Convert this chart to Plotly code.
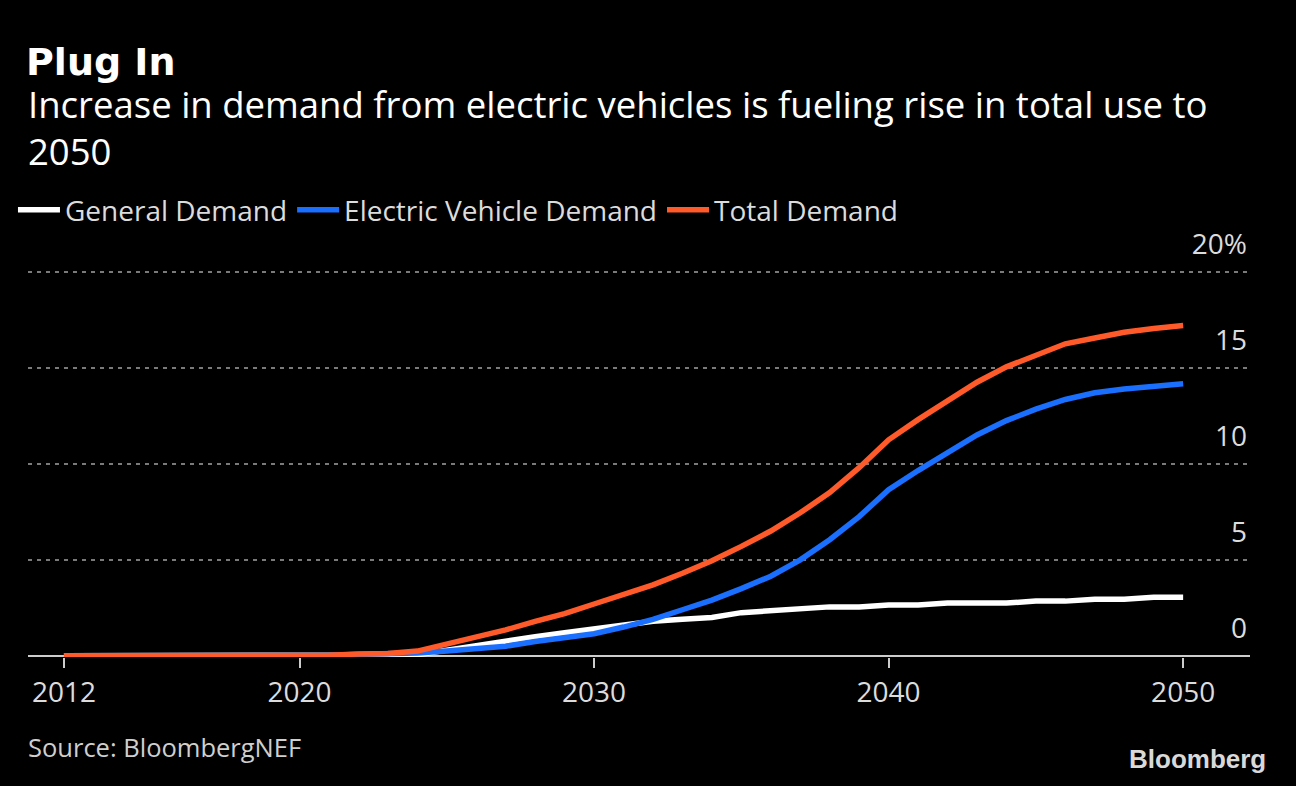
import plotly.graph_objects as go

years = list(range(2012, 2051))

general_demand = [0, 0, 0, 0, 0, 0, 0, 0, 0, 0, 0, 0,
                  0.05, 0.3, 0.55, 0.8, 1.0, 1.2, 1.4, 1.6, 1.8, 1.9, 2.0,
                  2.25, 2.35, 2.45, 2.55, 2.55, 2.65, 2.65, 2.75, 2.75, 2.75,
                  2.85, 2.85, 2.95, 2.95, 3.05, 3.05]

ev_demand = [0, 0, 0, 0, 0, 0, 0, 0, 0, 0.02, 0.08, 0.1,
             0.15, 0.25, 0.35, 0.5, 0.75, 0.95, 1.15, 1.5, 1.9, 2.4, 2.9,
             3.5, 4.15, 5.0, 6.05, 7.25, 8.65, 9.65, 10.55, 11.5, 12.25,
             12.85, 13.35, 13.7, 13.9, 14.05, 14.17]

total_demand = [0, 0, 0, 0, 0, 0, 0, 0, 0, 0.03, 0.1, 0.12,
                0.25, 0.6, 1.0, 1.35, 1.8, 2.2, 2.7, 3.2, 3.7, 4.3, 4.95,
                5.7, 6.5, 7.45, 8.5, 9.8, 11.25, 12.3, 13.3, 14.25, 15.05,
                15.65, 16.25, 16.55, 16.85, 17.05, 17.2]

series_names = ["General Demand", "Electric Vehicle Demand", "Total Demand"]
series_colors = ["#ffffff", "#1a6fff", "#ff5a2a"]

x_tickvals = [2012, 2020, 2030, 2040, 2050]
y_tickvals = [0, 5, 10, 15, 20]
y_ticktext = ["0", "5", "10", "15", "20%"]

title_text = "<b>Plug In</b>"
subtitle_text = "Increase in demand from electric vehicles is fueling rise in total use to<br>2050"
source_text = "Source: BloombergNEF"
brand_text = "<b>Bloomberg</b>"

FONT = "Open Sans, DejaVu Sans, sans-serif"

fig = go.Figure()
for name, vals, col in zip(series_names, [general_demand, ev_demand, total_demand], series_colors):
    fig.add_trace(go.Scatter(
        x=years, y=vals, mode="lines", name=name,
        line=dict(color=col, width=5.5, shape="linear"),
        hoverinfo="skip",
    ))

W, H = 1296, 786
PLOT_TOP = 214
PLOT_BOTTOM = 657
PLOT_H = float(PLOT_BOTTOM - PLOT_TOP)
def py(pix):
    return (PLOT_BOTTOM - pix) / PLOT_H

fig.update_layout(
    width=W, height=H,
    paper_bgcolor="#000000", plot_bgcolor="#000000",
    margin=dict(l=28, r=46, t=PLOT_TOP, b=H - PLOT_BOTTOM),
    font=dict(family=FONT, color="#dcdcdc", size=27),
    showlegend=True,
    legend=dict(
        orientation="h", x=-0.0123, xanchor="left", y=py(210), yanchor="middle",
        font=dict(family=FONT, size=28, color="#dcdcdc"),
        bgcolor="rgba(0,0,0,0)", itemwidth=42, traceorder="normal",
    ),
    xaxis=dict(
        range=[2010.78, 2052.27],
        tickvals=x_tickvals,
        ticks="outside", ticklen=10, tickwidth=2, tickcolor="#cccccc",
        showgrid=False, zeroline=False, showline=False,
        tickfont=dict(family=FONT, size=28, color="#dcdcdc"),
        fixedrange=True,
    ),
    yaxis=dict(
        range=[-0.06, 23.01],
        side="right",
        tickvals=y_tickvals, ticktext=y_ticktext,
        ticklabelposition="inside",
        ticklabelshift=-28,
        ticks="",
        showgrid=True, gridcolor="#7a7a7a", gridwidth=2, griddash="4px,5px",
        zeroline=True, zerolinecolor="#cccccc", zerolinewidth=2,
        showline=False,
        tickfont=dict(family=FONT, size=28, color="#dcdcdc"),
        fixedrange=True,
    ),
    annotations=[
        dict(text=title_text, xref="paper", yref="paper", x=-0.003, y=py(62),
             xanchor="left", yanchor="middle", showarrow=False,
             font=dict(family="DejaVu Sans, sans-serif", size=38, color="#ffffff")),
        dict(text=subtitle_text, xref="paper", yref="paper", x=-0.002, y=py(127),
             xanchor="left", yanchor="middle", align="left", showarrow=False,
             font=dict(family=FONT, size=36.5, color="#ffffff")),
        dict(text=source_text, xref="paper", yref="paper", x=-0.002, y=py(747),
             xanchor="left", yanchor="middle", showarrow=False,
             font=dict(family=FONT, size=25.5, color="#cfcfcf")),
        dict(text=brand_text, xref="paper", yref="paper", x=1.0147, y=py(759),
             xanchor="right", yanchor="middle", showarrow=False,
             font=dict(family="Liberation Sans, Arial, sans-serif", size=26, color="#d9d9d9")),
    ],
)

fig.write_html("out.html", config={"displayModeBar": False},
               post_script="document.body.style.margin='0px';document.body.style.background='#000';")
